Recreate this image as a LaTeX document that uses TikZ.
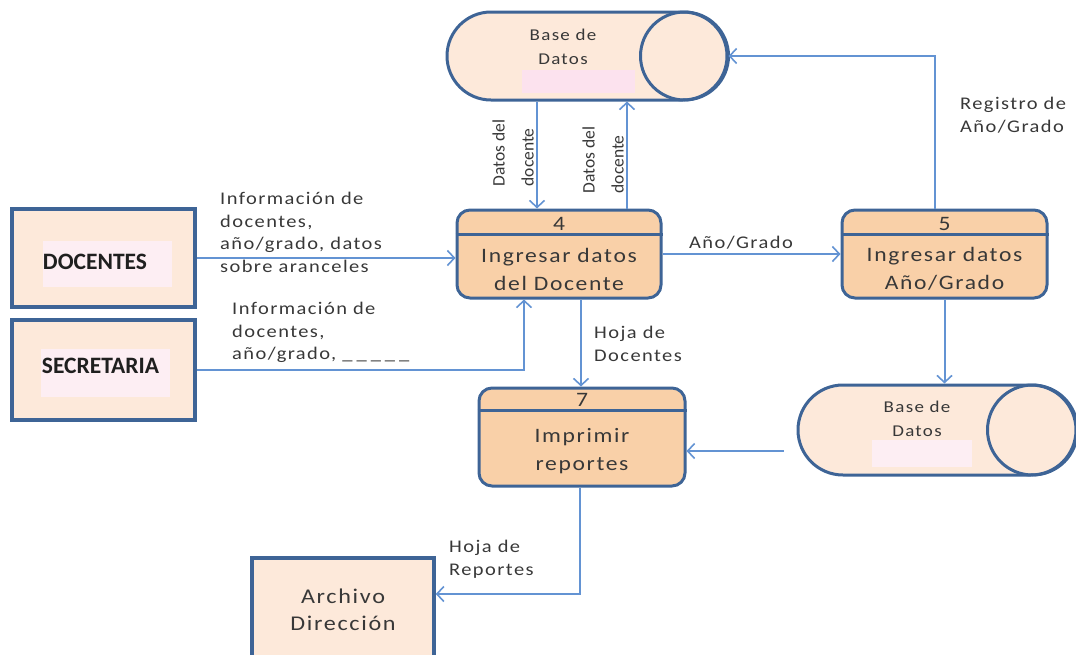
\documentclass[tikz,border=0pt]{standalone}
\usepackage{fontspec}
\setmainfont{Carlito}
\newfontfamily\wide[FakeStretch=1.15,LetterSpace=8]{Carlito}
\usetikzlibrary{arrows.meta,shapes.misc}
\definecolor{edge}{HTML}{3E6496}
\definecolor{flowc}{HTML}{6393D3}
\definecolor{procfill}{HTML}{F9D0A8}
\definecolor{softfill}{HTML}{FDE9DA}
\definecolor{pinkpad}{HTML}{FCE2EE}
\definecolor{pinklight}{HTML}{FDEEF3}
\definecolor{txt}{HTML}{383838}
\newcommand\gapdash{\_\hspace{4pt}}
\tikzset{
  proc/.style={draw=edge, line width=3pt, fill=procfill, rounded corners=13pt,
    minimum width=204pt, minimum height=88pt, inner sep=0pt},
  entity/.style={draw=edge, line width=3.5pt, fill=softfill,
    minimum width=183pt, minimum height=98pt, inner sep=0pt},
  store/.style={draw=edge, line width=3pt, fill=softfill, rounded rectangle,
    rounded rectangle arc length=180, minimum width=280pt, minimum height=88pt, inner sep=0pt},
  flow/.style={draw=flowc, line width=2pt, -{Straight Barb[length=7pt,width=15pt,line width=1.6pt]}},
  lbl/.style={text=txt, font=\wide\fontsize{17.8}{22.5}\selectfont, align=left, inner sep=0pt},
  ptxt/.style={text=txt, font=\wide\fontsize{20.5}{28}\selectfont, align=center, inner sep=0pt},
  stxt/.style={text=txt, font=\wide\fontsize{16.5}{24}\selectfont, align=center, inner sep=0pt},
  vlbl/.style={text=txt, font=\fontsize{17.5}{29}\selectfont, align=left, inner sep=0pt, rotate=90},
  ent/.style={text=black!88, font=\bfseries\fontsize{23.5}{26}\selectfont, inner sep=0pt},
}
\begin{document}
\begin{tikzpicture}[x=1pt,y=-1pt]
\useasboundingbox (0,0) rectangle (1076,654);

% data stores
\node[store] (db1) at (587,56) {};
\draw[edge, line width=3pt] ([xshift=-44pt]db1.east) circle (44pt);
\fill[pinkpad] (522,70) rectangle (635,93);
\node[stxt] (db1t) at (563,47) {Base de\\Datos};

\node[store, minimum width=278pt, minimum height=90pt] (db2) at (937,430) {};
\draw[edge, line width=3pt] ([xshift=-45pt]db2.east) circle (45pt);
\fill[pinklight] (872,440) rectangle (972,467);
\node[stxt] (db2t) at (917,419) {Base de\\Datos};

% processes
\node[proc] (p4) at (559,254) {};
\draw[edge, line width=2.5pt] ([yshift=-26pt]p4.north west) -- ([yshift=-26pt]p4.north east);
\node[ptxt] (p4n) at (559,224) {4};
\node[ptxt] (p4t) at (559,269) {Ingresar datos\\del Docente};

\node[proc, minimum width=205pt] (p5) at (944.5,254) {};
\draw[edge, line width=2.5pt] ([yshift=-26pt]p5.north west) -- ([yshift=-26pt]p5.north east);
\node[ptxt] (p5n) at (944.5,224) {5};
\node[ptxt] (p5t) at (944.5,269) {Ingresar datos\\Año/Grado};

\node[proc, minimum width=206pt, minimum height=98pt] (p7) at (582,437) {};
\draw[edge, line width=2.5pt] ([yshift=-24pt]p7.north west) -- ([yshift=-24pt]p7.north east);
\node[ptxt] (p7n) at (582,400) {7};
\node[ptxt] (p7t) at (582,451.5) {Imprimir\\reportes};

% external entities
\node[entity] (doc) at (103.5,258) {};
\fill[pinklight] (43,241) rectangle (172,287);
\node[ent] (doct) at (95,262) {DOCENTES};

\node[entity, minimum height=100pt] (sec) at (103.5,370) {};
\fill[pinklight] (41,349) rectangle (170,397);
\node[ent] (sect) at (100.5,366) {SECRETARIA};

\node[entity, minimum width=182pt, minimum height=122pt] (arch) at (343,619) {};
\node[ptxt, font=\wide\fontsize{21}{27}\selectfont] (archt) at (343,609.5) {Archivo\\Dirección};

% ports on the process boxes
\coordinate (p4in) at ([xshift=-22pt]p4.north);
\coordinate (p4out) at ([xshift=68pt]p4.north);
\coordinate (p4sec) at ([xshift=-35pt]p4.south);
\coordinate (p4down) at ([xshift=22pt]p4.south);
\coordinate (p5up) at ([xshift=-9.5pt]p5.north);
\coordinate (db2out) at ([xshift=-13pt,yshift=-21pt]db2.west);
\coordinate (archin) at ([yshift=25pt]arch.east);

% flows
\draw[flow] (doc.east) -- (doc.east -| p4.west);
\draw[flow] (sec.east) -| (p4sec);
\draw[flow] (db1.south -| p4in) -- (p4in);
\draw[flow] (p4out) -- (db1.south -| p4out);
\draw[flow] (p4.east) -- (p5.west);
\draw[flow] (p5up) |- (db1.east);
\draw[flow] (p5.south) -- (p5.south |- db2.north);
\draw[flow] (p4down) -- (p4down |- p7.north);
\draw[flow] (db2out) -- (db2out -| p7.east);
\draw[flow] ([xshift=-2pt]p7.south) |- (archin);

% flow labels
\node[lbl, anchor=north west] (l1) at (220,192) {Información de\\docentes,\\año/grado, datos\\sobre aranceles};
\node[lbl, anchor=north west] (l2) at (232,302) {Información de\\docentes,\\año/grado, \gapdash\gapdash\gapdash\gapdash\_};
\node[vlbl] (l3) at (513,153) {Datos del\\docente};
\node[vlbl] (l4) at (603,160) {Datos del\\docente};
\node[lbl] (l5) at (741,243) {Año/Grado};
\node[lbl, anchor=north west] (l6) at (960,97) {Registro de\\Año/Grado};
\node[lbl, anchor=north west] (l7) at (594,326) {Hoja de\\Docentes};
\node[lbl, anchor=north west] (l8) at (449,540) {Hoja de\\Reportes};
\end{tikzpicture}
\end{document}
